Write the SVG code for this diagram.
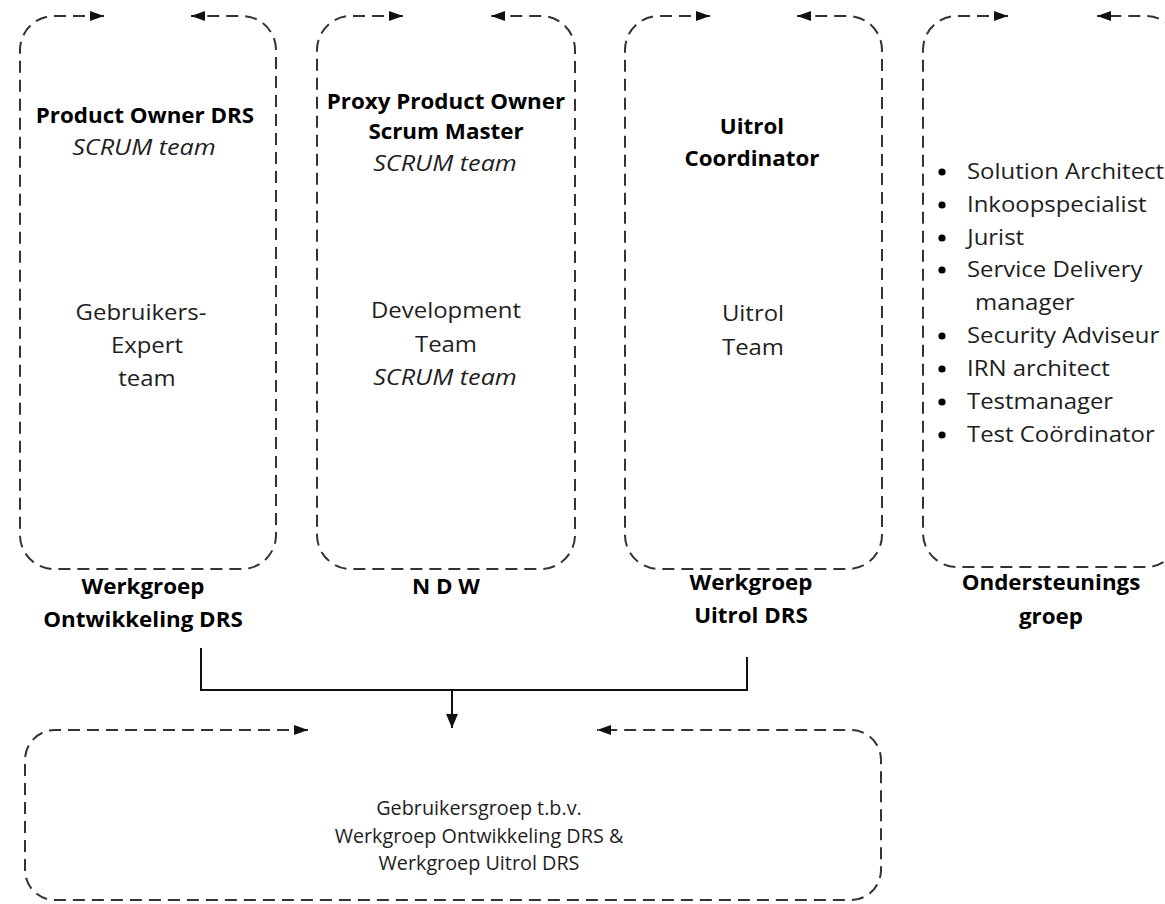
<svg xmlns="http://www.w3.org/2000/svg" width="1165" height="904" viewBox="0 0 1165 904">
<style>
.box{fill:none;stroke:#333;stroke-width:2;stroke-dasharray:12 7;marker-start:url(#ah);marker-end:url(#ah)}
.conn{fill:none;stroke:#111;stroke-width:2}
text{font-family:"Open Sans","Liberation Sans",sans-serif;fill:#1e1e1e;text-anchor:middle;transform-box:fill-box;transform-origin:center}
.b{font-weight:bold;font-size:21px;fill:#000;transform:scaleX(1.065)}
.r{font-size:21px;transform:scaleX(1.14)}
.i{font-size:21px;font-style:italic;transform:scaleX(1.2)}
.l{font-size:21px;text-anchor:start;transform-origin:left center;transform:scaleX(1.14)}
.s{font-size:19.8px}
</style>
<defs>
<marker id="ah" markerUnits="userSpaceOnUse" markerWidth="16" markerHeight="12" refX="14" refY="5" orient="auto-start-reverse">
<path d="M0,0 L14,5 L0,10 z" fill="#111"/>
</marker>
<marker id="dn" markerUnits="userSpaceOnUse" markerWidth="16" markerHeight="16" refX="14" refY="6" orient="auto">
<path d="M0,0 L14,6 L0,12 z" fill="#111"/>
</marker>
</defs>
<g id="connectors">
<polyline class="conn" points="201,648 201,690 747,690 747,657"/>
<line class="conn" x1="452" y1="690" x2="452" y2="728" marker-end="url(#dn)"/>
</g>
<g id="werkgroep-ontwikkeling">
<path class="box" d="M104,16 L54,16 A34,34 0 0 0 20,50 L20,535 A34,34 0 0 0 54,569 L242,569 A34,34 0 0 0 276,535 L276,50 A34,34 0 0 0 242,16 L191,16"/>
<text class="b" x="145" y="123">Product Owner DRS</text>
<text class="i" x="144" y="155">SCRUM team</text>
<text class="r" x="141" y="320">Gebruikers-</text>
<text class="r" x="147" y="353">Expert</text>
<text class="r" x="147" y="386">team</text>
<text class="b" x="143" y="594">Werkgroep</text>
<text class="b" x="143" y="627">Ontwikkeling DRS</text>
</g>
<g id="ndw">
<path class="box" d="M403,16 L351,16 A34,34 0 0 0 317,50 L317,535 A34,34 0 0 0 351,569 L541,569 A34,34 0 0 0 575,535 L575,50 A34,34 0 0 0 541,16 L491,16"/>
<text class="b" x="446" y="109">Proxy Product Owner</text>
<text class="b" x="446" y="139">Scrum Master</text>
<text class="i" x="445" y="171">SCRUM team</text>
<text class="r" x="446" y="318">Development</text>
<text class="r" x="446" y="352">Team</text>
<text class="i" x="445" y="385">SCRUM team</text>
<text class="b" x="446" y="594">N D W</text>
</g>
<g id="werkgroep-uitrol">
<path class="box" d="M710,16 L659,16 A34,34 0 0 0 625,50 L625,535 A34,34 0 0 0 659,569 L848,569 A34,34 0 0 0 882,535 L882,50 A34,34 0 0 0 848,16 L797,16"/>
<text class="b" x="752" y="134">Uitrol</text>
<text class="b" x="752" y="166">Coordinator</text>
<text class="r" x="753" y="321">Uitrol</text>
<text class="r" x="753" y="355">Team</text>
<text class="b" x="751" y="590">Werkgroep</text>
<text class="b" x="751" y="623">Uitrol DRS</text>
</g>
<g id="ondersteuningsgroep">
<path class="box" d="M1008,16 L957,16 A34,34 0 0 0 923,50 L923,533 A34,34 0 0 0 957,567 L1146,567 A34,34 0 0 0 1180,533 L1180,50 A34,34 0 0 0 1146,16 L1097,16"/>
<g fill="#000">
<circle cx="942" cy="172" r="3.6"/><circle cx="942" cy="205" r="3.6"/><circle cx="942" cy="238" r="3.6"/><circle cx="942" cy="270" r="3.6"/>
<circle cx="942" cy="336" r="3.6"/><circle cx="942" cy="369" r="3.6"/><circle cx="942" cy="402" r="3.6"/><circle cx="942" cy="435" r="3.6"/>
</g>
<text class="l" x="967" y="179">Solution Architect</text>
<text class="l" x="967" y="212">Inkoopspecialist</text>
<text class="l" x="967" y="245">Jurist</text>
<text class="l" x="967" y="277">Service Delivery</text>
<text class="l" x="975" y="310">manager</text>
<text class="l" x="967" y="343">Security Adviseur</text>
<text class="l" x="967" y="376">IRN architect</text>
<text class="l" x="967" y="409">Testmanager</text>
<text class="l" x="967" y="442">Test Coördinator</text>
<text class="b" x="1051" y="590">Ondersteunings</text>
<text class="b" x="1051" y="624">groep</text>
</g>
<g id="gebruikersgroep">
<path class="box" d="M308,730 L55,730 A30,30 0 0 0 25,760 L25,870 A30,30 0 0 0 55,900 L851,900 A30,30 0 0 0 881,870 L881,760 A30,30 0 0 0 851,730 L597,730"/>
<text class="s" x="479" y="815">Gebruikersgroep t.b.v.</text>
<text class="s" x="479" y="843">Werkgroep Ontwikkeling DRS &amp;</text>
<text class="s" x="479" y="870">Werkgroep Uitrol DRS</text>
</g>
</svg>
